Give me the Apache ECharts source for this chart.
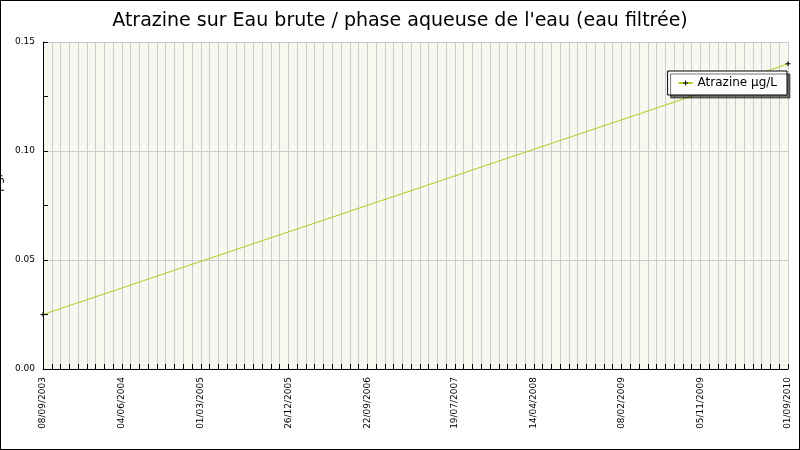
<!DOCTYPE html><html><head><meta charset="utf-8">
<script src="https://cdn.jsdelivr.net/npm/echarts@6/dist/echarts.min.js"></script>
<style>html,body{margin:0;padding:0;background:#fff}#c{width:798px;height:448px;border:1px solid #000}</style>
</head><body><div id="c"></div><script>
const dates = ['2003-09-08', '2010-09-01'];
const values = [0.025, 0.14];
const tickDates = ['08/09/2003','04/06/2004','01/03/2005','26/12/2005','22/09/2006','19/07/2007','14/04/2008','08/02/2009','05/11/2009','01/09/2010'];
const seriesName = 'Atrazine µg/L';
const titleText = "Atrazine sur Eau brute / phase aqueuse de l'eau (eau filtrée)";
const DAY = 86400000;
const t0 = Date.parse(dates[0] + 'T00:00:00Z');
const dayOf = s => Math.round((Date.parse(s + 'T00:00:00Z') - t0) / DAY);
const dmyDay = s => { const [d, m, y] = s.split('/'); return dayOf(y + '-' + m + '-' + d); };
const labelMap = {};
tickDates.forEach(s => { labelMap[dmyDay(s)] = s; });
const maxDay = dayOf(dates[dates.length - 1]);
const chart = echarts.init(document.getElementById('c'));
chart.setOption({
  animation: false,
  textStyle: { fontFamily: 'DejaVu Sans' },
  title: { text: titleText, left: 'center', top: 6, textStyle: { fontSize: 19, fontWeight: 'normal', color: '#000', fontFamily: 'DejaVu Sans' } },
  legend: { right: 12, top: 70, orient: 'vertical', backgroundColor: '#fff', borderColor: '#000', borderWidth: 1, padding: [6, 10],
    shadowColor: 'rgba(0,0,0,0.55)', shadowOffsetX: 3, shadowOffsetY: 3, shadowBlur: 0,
    itemWidth: 14, itemHeight: 6, textStyle: { fontSize: 12, color: '#000' }, data: [seriesName] },
  grid: { left: 42, right: 11, top: 41, bottom: 80, backgroundColor: '#f8f8f0', show: true, borderWidth: 0, outerBoundsMode: 'none', containLabel: false },
  xAxis: { type: 'value', min: 0, max: maxDay, interval: 30,
    axisLine: { lineStyle: { color: '#000' } }, axisTick: { inside: true, length: 5, lineStyle: { color: '#000' } },
    splitLine: { show: true, lineStyle: { color: '#cccccc' } },
    axisLabel: { rotate: 90, fontSize: 9, color: '#000', showMaxLabel: true, showMinLabel: true, hideOverlap: false,
      formatter: v => labelMap[v] || '' } },
  yAxis: { type: 'value', min: 0, max: 0.15, interval: 0.05, name: 'Atrazine µg/L', nameLocation: 'middle', nameGap: 26,
    nameTextStyle: { fontSize: 12, color: '#000' },
    axisLine: { show: true, lineStyle: { color: '#000' } }, axisTick: { show: true, inside: true, length: 5, lineStyle: { color: '#000' } },
    minorTick: { show: true, splitNumber: 2, length: 5, lineStyle: { color: '#000' } },
    splitLine: { lineStyle: { color: '#cccccc' } },
    axisLabel: { fontSize: 9, color: '#000', formatter: v => v.toFixed(2) } },
  series: [{ name: seriesName, type: 'line', data: dates.map((d, i) => [dayOf(d), values[i]]),
    symbol: 'path://M0,2L5,2L5,3L0,3ZM2,0L3,0L3,5L2,5Z', symbolSize: 5, itemStyle: { color: '#000' },
    lineStyle: { color: '#a8d020', width: 1 } }]
});
</script></body></html>
